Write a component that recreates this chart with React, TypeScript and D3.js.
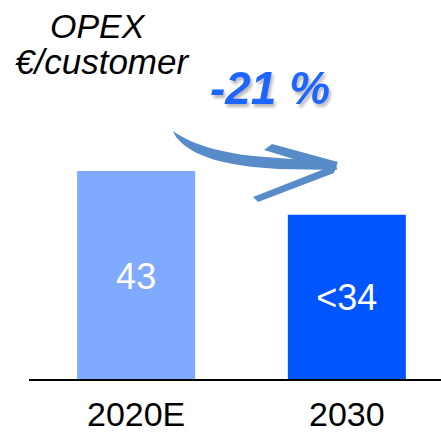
import React from 'react';
import * as d3 from 'd3';

const categories = ['2020E', '2030'];
const values = [43, 34];
const valueLabels = ['43', '<34'];
const barColors = ['#80aaff', '#0055ff'];
const changeLabel = '-21 %';
const titleLines = ['OPEX', '€/customer'];

const width = 441;
const height = 432;
const baseY = 380;

export default function App() {
  const x = d3.scaleBand<string>()
    .domain(categories)
    .range([35, 448])
    .paddingInner(0.44)
    .paddingOuter(0.2);

  const y = d3.scaleLinear()
    .domain([0, 43])
    .range([baseY, 171]);

  const font = '"Liberation Sans", Arial, sans-serif';

  return (
    <svg
      width={width}
      height={height}
      style={{ position: 'absolute', left: 0, top: 0, background: '#fff' }}
    >
      <defs>
        <filter id="shadow" x="-20%" y="-20%" width="140%" height="150%">
          <feDropShadow dx="2" dy="3" stdDeviation="1.5" floodColor="#888" floodOpacity="0.6" />
        </filter>
      </defs>

      {/* title */}
      <text x={50} y={38} fontFamily={font} fontStyle="italic" fontSize={34} fill="#000">
        {titleLines[0]}
      </text>
      <text x={15} y={74} fontFamily={font} fontStyle="italic" fontSize={35} fill="#000">
        {titleLines[1]}
      </text>

      {/* change label */}
      <text
        x={210}
        y={104}
        fontFamily={font}
        fontStyle="italic"
        fontWeight="bold"
        fontSize={46}
        fill="#1a66ff"
        textLength={120}
        lengthAdjust="spacingAndGlyphs"
        filter="url(#shadow)"
      >
        {changeLabel}
      </text>

      {/* brush arrow */}
      <g fill="#4f86c6" opacity={0.95}>
        <path d="M173,131 C194,146 226,155 278,158 L336,162 L337,170 L278,169 C226,166 192,157 176,137 Z" />
        <path d="M264,150 L272,144 L338,162 L333,171 Z" />
        <path d="M337,164 L334,173 L258,202 L253,197 Z" />
      </g>

      {/* bars */}
      {categories.map((c, i) => {
        const x0 = x(c) || 0;
        const top = y(values[i]);
        const mid = (top + baseY) / 2;
        return (
          <g key={c}>
            <rect x={x0} y={top} width={x.bandwidth()} height={baseY - top} fill={barColors[i]} />
            <text
              x={x0 + x.bandwidth() / 2}
              y={mid + 13}
              textAnchor="middle"
              fontFamily={font}
              fontSize={36}
              fill="#fff"
            >
              {valueLabels[i]}
            </text>
            <text
              x={x0 + x.bandwidth() / 2}
              y={426}
              textAnchor="middle"
              fontFamily={font}
              fontSize={34}
              fill="#000"
            >
              {c}
            </text>
          </g>
        );
      })}

      {/* baseline */}
      <line x1={29} x2={441} y1={baseY} y2={baseY} stroke="#000" strokeWidth={2} />
    </svg>
  );
}
